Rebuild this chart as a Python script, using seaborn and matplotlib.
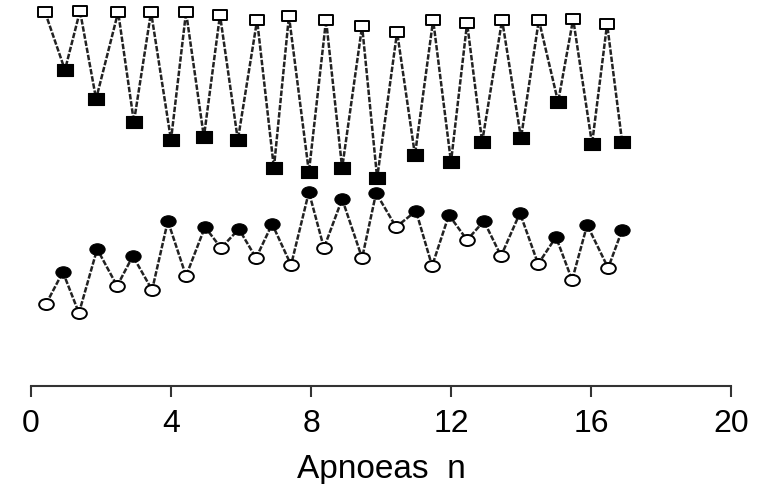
import matplotlib
matplotlib.use("Agg")
import matplotlib.pyplot as plt
from matplotlib.path import Path
from matplotlib.transforms import Affine2D
import seaborn as sns
import pandas as pd

# ---- data ----
sq_open_x = [0.40, 1.40, 2.49, 3.43, 4.43, 5.40, 6.46, 7.37, 8.43, 9.46, 10.46, 11.49, 12.46, 13.46, 14.51, 15.49, 16.46]
sq_open_y = [374, 375, 374, 374, 374, 371, 366, 370, 366, 360, 354, 366, 363, 366, 366, 367, 362]
sq_fill_x = [0.97, 1.86, 2.94, 4.00, 4.94, 5.91, 6.94, 7.94, 8.89, 9.89, 10.97, 12.00, 12.89, 14.00, 15.06, 16.03, 16.89]
sq_fill_y = [316, 287, 264, 246, 249, 246, 218, 214, 218, 208, 231, 224, 244, 248, 284, 242, 244]

ci_open_x = [0.43, 1.37, 2.46, 3.46, 4.43, 5.43, 6.43, 7.43, 8.37, 9.46, 10.43, 11.46, 12.46, 13.43, 14.49, 15.46, 16.49]
ci_open_y = [82, 73, 100, 96, 110, 138, 128, 121, 138, 128, 159, 120, 146, 130, 122, 106, 118]
ci_fill_x = [0.91, 1.89, 2.91, 3.91, 4.97, 5.94, 6.89, 7.94, 8.89, 9.86, 11.00, 11.94, 12.94, 13.97, 15.00, 15.89, 16.89]
ci_fill_y = [114, 137, 130, 165, 159, 157, 162, 194, 187, 193, 175, 171, 165, 173, 149, 161, 156]

x_ticks = [0, 4, 8, 12, 16, 20]
x_label = "Apnoeas  n"


def zigzag(ox, oy, fx, fy):
    xs, ys = [], []
    for a, b, c, d in zip(ox, oy, fx, fy):
        xs += [a, c]
        ys += [b, d]
    return pd.DataFrame({"x": xs, "y": ys, "order": range(len(xs))})


def rect_marker(aspect):
    return Path([(-1, -aspect), (1, -aspect), (1, aspect), (-1, aspect), (-1, -aspect)],
                [Path.MOVETO, Path.LINETO, Path.LINETO, Path.LINETO, Path.CLOSEPOLY])


def ellipse_marker(aspect):
    return Affine2D().scale(1.0, aspect).transform_path(Path.unit_circle())


sns.set_style("white")
plt.rcParams["font.family"] = ["Liberation Sans", "DejaVu Sans"]
plt.rcParams["text.color"] = "black"
plt.rcParams["axes.labelcolor"] = "black"
plt.rcParams["xtick.color"] = "black"

fig = plt.figure(figsize=(7.63, 4.85), dpi=100)
ax = fig.add_axes([31 / 763, 98 / 485, 700 / 763, 387 / 485])

line_kw = dict(color="#222222", linewidth=1.8, linestyle=(0, (2.2, 0.7)),
               sort=False, estimator=None, legend=False, ax=ax)
sns.lineplot(data=zigzag(sq_open_x, sq_open_y, sq_fill_x, sq_fill_y), x="x", y="y", **line_kw)
sns.lineplot(data=zigzag(ci_open_x, ci_open_y, ci_fill_x, ci_fill_y), x="x", y="y", **line_kw)

sc_kw = dict(ax=ax, legend=False, clip_on=False, zorder=5, edgecolor="black")
sns.scatterplot(x=sq_open_x, y=sq_open_y, marker=rect_marker(0.72), s=112, color="white",
                linewidth=1.4, **sc_kw)
sns.scatterplot(x=sq_fill_x, y=sq_fill_y, marker=rect_marker(0.86), s=117, color="black",
                linewidth=0.8, **sc_kw)
sns.scatterplot(x=ci_open_x, y=ci_open_y, marker=ellipse_marker(0.75), s=112, color="white",
                linewidth=1.4, **sc_kw)
sns.scatterplot(x=ci_fill_x, y=ci_fill_y, marker=ellipse_marker(0.75), s=120, color="black",
                linewidth=0.8, **sc_kw)

ax.set_xlim(0, 20)
ax.set_ylim(0, 387)
ax.set_xticks(x_ticks)
ax.set_xticklabels([str(t) for t in x_ticks])
ax.set_yticks([])
ax.set_ylabel("")
ax.set_xlabel(x_label, fontsize=24, labelpad=11, color="black")
for s in ["top", "right", "left"]:
    ax.spines[s].set_visible(False)
ax.spines["bottom"].set_color("#333333")
ax.spines["bottom"].set_linewidth(1.5)
ax.tick_params(axis="x", direction="out", length=8, width=1.5, color="#333333",
               labelcolor="black", labelsize=23, pad=8, bottom=True)

fig.savefig("out.png", dpi=100)
